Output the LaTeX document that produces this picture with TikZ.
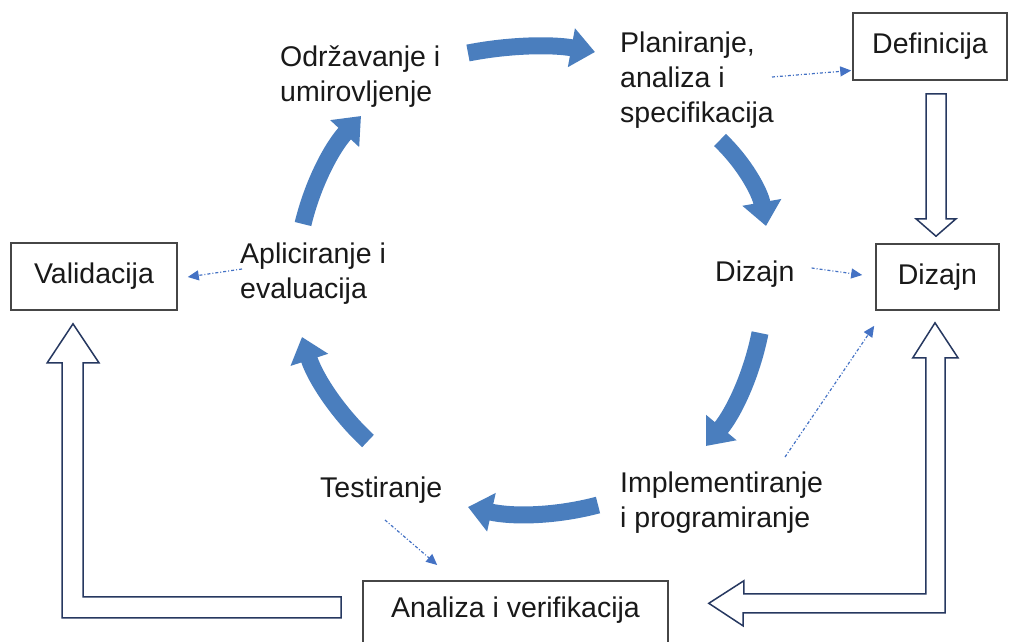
\documentclass[tikz,border=0pt]{standalone}
\usepackage{fontspec}
\setmainfont{Liberation Sans}
\usetikzlibrary{arrows.meta,calc}
\definecolor{cyc}{RGB}{74,126,190}
\definecolor{dotc}{RGB}{68,114,196}
\definecolor{boxc}{RGB}{70,70,70}
\definecolor{hol}{RGB}{38,56,96}
\definecolor{txt}{RGB}{25,25,25}
\begin{document}
\begin{tikzpicture}[x=1pt,y=-1pt,
  lbl/.style={font=\fontsize{28.5}{35}\selectfont, text=txt, inner sep=0pt, align=left, anchor=west},
  box/.style={draw=boxc, line width=1.6pt, fill=white, text=txt, font=\fontsize{28.5}{35}\selectfont, inner sep=0pt},
  cycarrow/.style={draw=cyc, line width=17pt, -{Triangle[length=24pt,width=38pt]}},
  dotarrow/.style={draw=dotc, line width=1.2pt, dash pattern=on 3pt off 2pt on 1pt off 2pt, -{Triangle[length=11pt,width=10pt]}},
  hollow/.style={draw=hol, line width=1.5pt, fill=white, line join=miter}]
\useasboundingbox (0,0) rectangle (1009,641);

% boxes
\node[box, minimum width=154pt, minimum height=67pt] (def) at (930,46.5) {Definicija};
\node[box, minimum width=123pt, minimum height=66pt] (dizB) at (937.5,277) {Dizajn};
\node[box, minimum width=166pt, minimum height=67pt] (val) at (94,276.5) {Validacija};
\node[box, text height=37pt, text depth=30pt, minimum width=305pt, anchor=north] (ana) at (515.5,580) {Analiza i verifikacija};

% cycle labels
\node[lbl] (maint) at (280,77) {Održavanje i\\umirovljenje};
\node[lbl] (plan) at (620,80) {Planiranje,\\analiza i\\specifikacija};
\node[lbl] (dizT) at (715,274) {Dizajn};
\node[lbl] (impl) at (620,503) {Implementiranje\\i programiranje};
\node[lbl] (test) at (320,490) {Testiranje};
\node[lbl] (apl) at (240,274) {Apliciranje i\\evaluacija};

% cycle arrows
\draw[cycarrow] ($(maint.west)+(188,-24)$) .. controls ($(maint.west)+(230.3,-32.3)$) and ($(plan.west)+(-67.3,-35.7)$) .. ($(plan.west)+(-25,-28)$);
\draw[cycarrow] ($(plan.west)+(100,60)$) .. controls ($(plan.west)+(124.7,83.6)$) and ($(dizT.west)+(45.1,-81.7)$) .. ($(dizT.west)+(51,-48)$);
\draw[cycarrow] ($(dizT.west)+(45,59)$) .. controls ($(dizT.west)+(36.6,101.3)$) and ($(impl.west)+(113.6,-90.1)$) .. ($(impl.west)+(86,-57)$);
\draw[cycarrow] ($(impl.west)+(-22,2)$) .. controls ($(impl.west)+(-64.7,13.3)$) and ($(test.west)+(192.7,27)$) .. ($(test.west)+(148,17)$);
\draw[cycarrow] ($(test.west)+(48,-49)$) .. controls ($(test.west)+(17,-77.9)$) and ($(apl.west)+(75,103.4)$) .. ($(apl.west)+(62,63)$);
\draw[cycarrow] ($(apl.west)+(63,-50)$) .. controls ($(apl.west)+(72.9,-91.1)$) and ($(maint.west)+(52.3,69.9)$) .. ($(maint.west)+(81,39)$);

% dotted arrows
\draw[dotarrow] ($(plan.west)+(152,-3)$) -- ($(def.west)+(-1,24)$);
\draw[dotarrow] ($(dizT.east)+(17,-6)$) -- ($(dizB.west)+(-13,-2)$);
\draw[dotarrow] ($(impl.west)+(165,-46)$) -- ($(dizB.south west)+(-1,15)$);
\draw[dotarrow] ($(test.west)+(65,30)$) -- ($(ana.north west)+(75,-15)$);
\draw[dotarrow] ($(apl.west)+(2,-5)$) -- ($(val.east)+(10,0.5)$);

% hollow arrows
\draw[hollow] ($(def.south)+(-4,13)$) coordinate (h1) -- ++(20,0) -- ++(0,125) -- ++(10,0)
  -- ($(dizB.north)+(-1.5,-7)$) -- ($(h1)+(-10,125)$) -- ($(h1)+(0,125)$) -- cycle;
\draw[hollow] ($(dizB.south)+(-2.5,12)$) -- ++(23,35) -- ++(-13,0) -- ++(0,255) -- ++(-202,0) -- ++(0,13)
  -- ($(ana.east)+(40,-11)$) -- ++(35,-22.5) -- ++(0,13) -- ++(182,0) -- ++(0,-236) -- ++(-13,0) -- cycle;
\draw[hollow] ($(val.south)+(-21,13)$) -- ++(26,39) -- ++(-16,0) -- ++(0,234)
  -- ($(ana.west)+(-21,-17.5)$) -- ++(0,21) -- ++(-279,0) -- ++(0,-255) -- ++(-15,0) -- cycle;
\end{tikzpicture}
\end{document}
